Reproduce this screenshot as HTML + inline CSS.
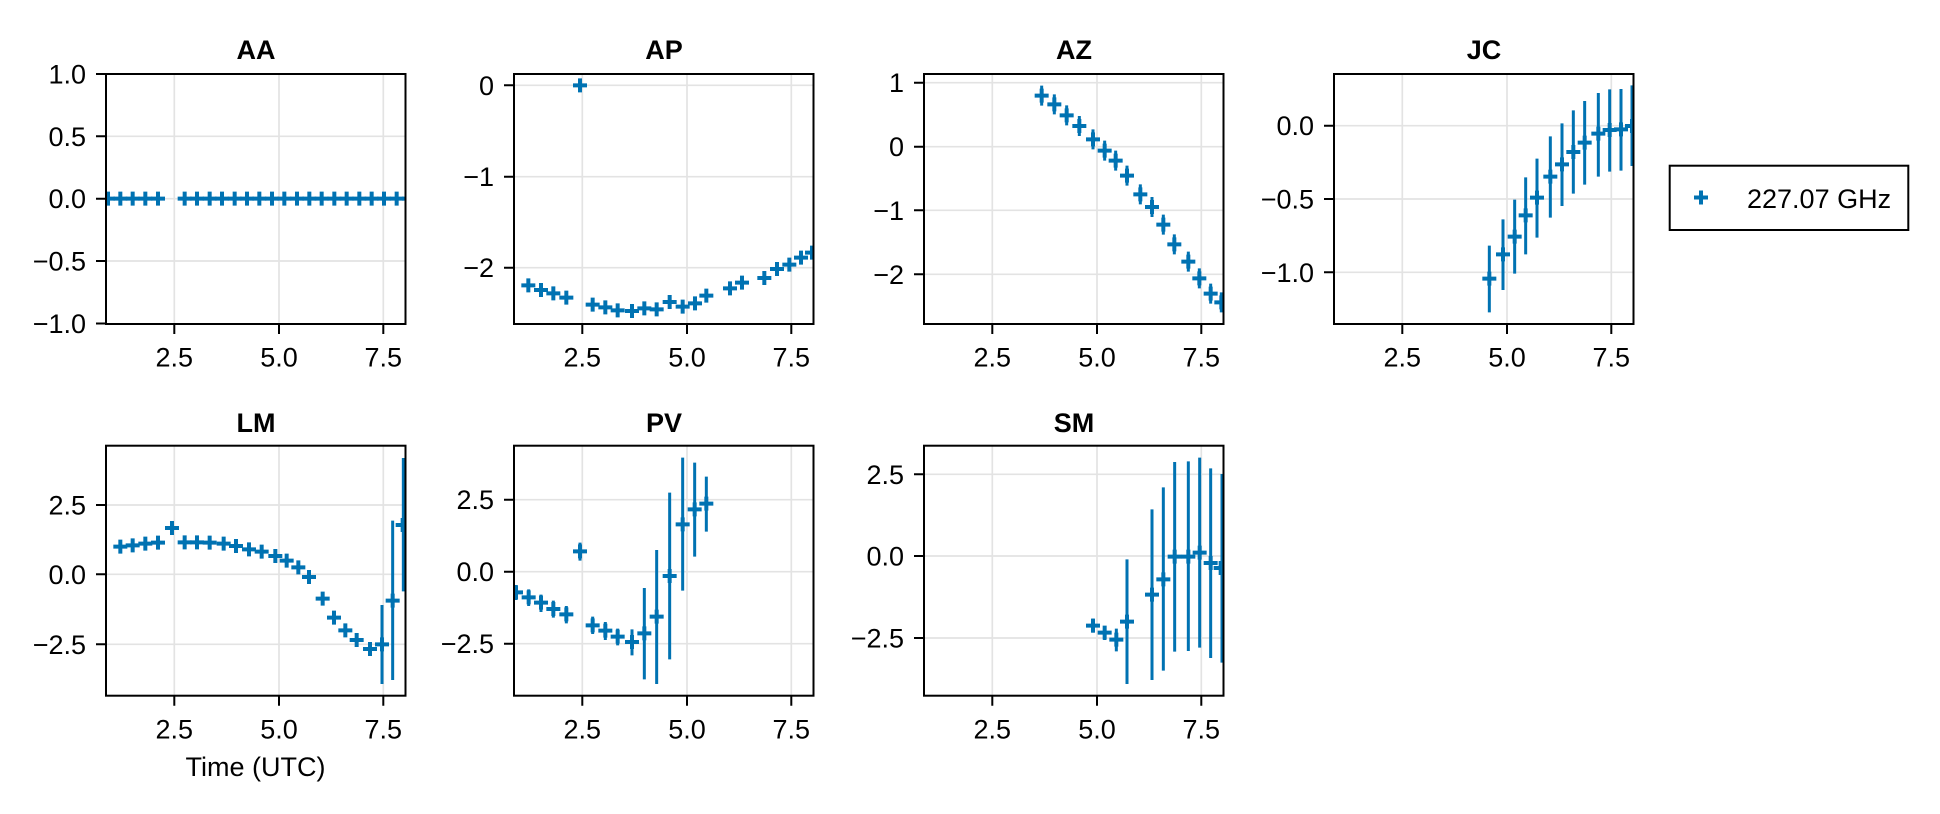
<!DOCTYPE html>
<html><head><meta charset="utf-8"><style>
html,body{margin:0;padding:0;background:#fff;}
svg{display:block;}
text{font-family:"Liberation Sans",sans-serif;fill:#000;}
</style></head><body>
<svg width="1940" height="814" viewBox="0 0 1940 814" xmlns="http://www.w3.org/2000/svg">
<defs>
<g id="p"><path d="M-21,0H21M0,-21V21" stroke="#0072b2" stroke-width="12" fill="none"/></g>
<clipPath id="cA" clipPathUnits="userSpaceOnUse"><rect x="48" y="42" width="898" height="750"/></clipPath>
<clipPath id="cB" clipPathUnits="userSpaceOnUse"><rect x="42" y="42" width="898" height="750"/></clipPath>
<clipPath id="cC" clipPathUnits="userSpaceOnUse"><rect x="48" y="47" width="898" height="750"/></clipPath>
<clipPath id="cD" clipPathUnits="userSpaceOnUse"><rect x="42" y="47" width="898" height="750"/></clipPath>
</defs>

<!-- gridlines -->
<g stroke="#e3e3e3" stroke-width="1.7">
<!-- AA -->
<path d="M174.3,74V324M279,74V324M383.3,74V324M106,136.3H405.5M106,198.7H405.5M106,261H405.5"/>
<!-- AP -->
<path d="M582.3,74V324M687,74V324M791.3,74V324M514,85.3H813.5M514,176.7H813.5M514,267.7H813.5"/>
<!-- AZ -->
<path d="M992.3,74V324M1097,74V324M1201.3,74V324M924,82.7H1223.5M924,146.7H1223.5M924,210.3H1223.5M924,274.3H1223.5"/>
<!-- JC -->
<path d="M1402.3,74V324M1507,74V324M1611.3,74V324M1334,125.7H1633.5M1334,199H1633.5M1334,272.3H1633.5"/>
<!-- LM -->
<path d="M174.3,445.7V695.7M279,445.7V695.7M383.3,445.7V695.7M106,505H405.5M106,574.3H405.5M106,644.3H405.5"/>
<!-- PV -->
<path d="M582.3,445.7V695.7M687,445.7V695.7M791.3,445.7V695.7M514,499.7H813.5M514,571.7H813.5M514,643.7H813.5"/>
<!-- SM -->
<path d="M992.3,445.7V695.7M1097,445.7V695.7M1201.3,445.7V695.7M924,474.3H1223.5M924,556H1223.5M924,638H1223.5"/>
</g>

<!-- data AA -->
<g transform="translate(90,60) scale(0.33333)"><g clip-path="url(#cA)">
<use href="#p" x="54" y="416"/><use href="#p" x="91" y="416"/><use href="#p" x="128" y="416"/><use href="#p" x="166" y="416"/><use href="#p" x="204" y="416"/>
<use href="#p" x="284" y="416"/><use href="#p" x="321" y="416"/><use href="#p" x="359" y="416"/><use href="#p" x="396" y="416"/><use href="#p" x="434" y="416"/><use href="#p" x="471" y="416"/><use href="#p" x="508" y="416"/><use href="#p" x="546" y="416"/><use href="#p" x="583" y="416"/><use href="#p" x="621" y="416"/><use href="#p" x="658" y="416"/><use href="#p" x="695" y="416"/><use href="#p" x="733" y="416"/><use href="#p" x="770" y="416"/><use href="#p" x="808" y="416"/><use href="#p" x="845" y="416"/><use href="#p" x="882" y="416"/><use href="#p" x="920" y="416"/><use href="#p" x="957" y="416"/>
</g></g>

<!-- data AP -->
<g transform="translate(500,60) scale(0.33333)"><g clip-path="url(#cB)">
<use href="#p" x="240" y="76"/><use href="#p" x="85" y="676"/><use href="#p" x="123" y="690"/><use href="#p" x="160" y="700"/><use href="#p" x="199" y="713"/><use href="#p" x="278" y="734"/><use href="#p" x="316" y="742"/><use href="#p" x="353" y="751"/><use href="#p" x="396" y="753"/><use href="#p" x="433" y="745"/><use href="#p" x="470" y="748"/><use href="#p" x="509" y="726"/><use href="#p" x="548" y="740"/><use href="#p" x="585" y="730"/><use href="#p" x="619" y="707"/><use href="#p" x="690" y="685"/><use href="#p" x="726" y="668"/><use href="#p" x="793" y="654"/><use href="#p" x="831" y="627"/><use href="#p" x="868" y="614"/><use href="#p" x="903" y="593"/><use href="#p" x="936" y="578"/>
</g></g>

<!-- data AZ -->
<g transform="translate(910,60) scale(0.33333)"><g clip-path="url(#cB)">
<g stroke="#0072b2" stroke-width="9">
<path d="M395,77V137M433,103V163M470,136V196M508,168V228M549,208V268M584,242V302M617,272V332M651,317V377M691,373V433M726,411V471M760,464V524M793,523V583M835,575V635M868,625V685M902,671V731M934,697V757"/>
</g>
<use href="#p" x="395" y="107"/><use href="#p" x="433" y="133"/><use href="#p" x="470" y="166"/><use href="#p" x="508" y="198"/><use href="#p" x="549" y="238"/><use href="#p" x="584" y="272"/><use href="#p" x="617" y="302"/><use href="#p" x="651" y="347"/><use href="#p" x="691" y="403"/><use href="#p" x="726" y="441"/><use href="#p" x="760" y="494"/><use href="#p" x="793" y="553"/><use href="#p" x="835" y="605"/><use href="#p" x="868" y="655"/><use href="#p" x="902" y="701"/><use href="#p" x="934" y="727"/>
</g></g>

<!-- data JC -->
<g transform="translate(1320,60) scale(0.33333)"><g clip-path="url(#cB)">
<g stroke="#0072b2" stroke-width="9">
<path d="M508,557V757M549,478V690M584,419V641M617,352V583M651,296V533M691,229V473M726,190V438M760,151V401M794,123V374M835,99V350M869,88V335M903,87V332M936,76V318"/>
</g>
<use href="#p" x="508" y="656"/><use href="#p" x="549" y="583"/><use href="#p" x="584" y="530"/><use href="#p" x="617" y="466"/><use href="#p" x="651" y="413"/><use href="#p" x="691" y="350"/><use href="#p" x="726" y="313"/><use href="#p" x="760" y="276"/><use href="#p" x="794" y="248"/><use href="#p" x="835" y="221"/><use href="#p" x="869" y="210"/><use href="#p" x="903" y="208"/><use href="#p" x="936" y="198"/>
</g></g>

<!-- data LM -->
<g transform="translate(90,430) scale(0.33333)"><g clip-path="url(#cC)">
<g stroke="#0072b2" stroke-width="9">
<path d="M876,525V762M908,272V750M940,84V484"/>
</g>
<use href="#p" x="91" y="350"/><use href="#p" x="128" y="346"/><use href="#p" x="166" y="341"/><use href="#p" x="204" y="338"/><use href="#p" x="246" y="294"/><use href="#p" x="284" y="337"/><use href="#p" x="321" y="337"/><use href="#p" x="359" y="338"/><use href="#p" x="401" y="341"/><use href="#p" x="438" y="348"/><use href="#p" x="477" y="358"/><use href="#p" x="515" y="365"/><use href="#p" x="556" y="378"/><use href="#p" x="590" y="392"/><use href="#p" x="625" y="412"/><use href="#p" x="657" y="441"/><use href="#p" x="698" y="506"/><use href="#p" x="732" y="563"/><use href="#p" x="766" y="601"/><use href="#p" x="800" y="630"/><use href="#p" x="840" y="657"/><use href="#p" x="876" y="643"/><use href="#p" x="908" y="512"/><use href="#p" x="938" y="285"/>
</g></g>

<!-- data PV -->
<g transform="translate(500,430) scale(0.33333)"><g clip-path="url(#cD)">
<g stroke="#0072b2" stroke-width="9">
<path d="M48,465V510M86,478V528M123,494V546M160,512V563M199,528V580M240,338V392M278,560V612M316,576V630M353,596V646M396,598V676M433,474V748M470,360V762M509,188V688M548,83V482M584,98V380M619,140V305"/>
</g>
<use href="#p" x="48" y="487"/><use href="#p" x="86" y="502"/><use href="#p" x="123" y="518"/><use href="#p" x="160" y="537"/><use href="#p" x="199" y="553"/><use href="#p" x="240" y="364"/><use href="#p" x="278" y="586"/><use href="#p" x="316" y="602"/><use href="#p" x="353" y="620"/><use href="#p" x="396" y="636"/><use href="#p" x="433" y="610"/><use href="#p" x="470" y="560"/><use href="#p" x="509" y="438"/><use href="#p" x="548" y="283"/><use href="#p" x="584" y="238"/><use href="#p" x="619" y="221"/>
</g></g>

<!-- data SM -->
<g transform="translate(910,430) scale(0.33333)"><g clip-path="url(#cD)">
<g stroke="#0072b2" stroke-width="9">
<path d="M549,566V608M584,588V630M619,596V664M651,388V762M726,238V750M760,172V722M794,96V665M835,94V663M869,83V653M902,115V684M936,132V698"/>
</g>
<use href="#p" x="549" y="587"/><use href="#p" x="584" y="608"/><use href="#p" x="619" y="629"/><use href="#p" x="651" y="575"/><use href="#p" x="726" y="494"/><use href="#p" x="760" y="448"/><use href="#p" x="794" y="380"/><use href="#p" x="835" y="380"/><use href="#p" x="869" y="368"/><use href="#p" x="902" y="399"/><use href="#p" x="932" y="414"/>
</g></g>

<!-- frames & ticks -->
<g fill="none" stroke="#000" stroke-width="2">
<rect x="106" y="74" width="299.5" height="250"/>
<rect x="514" y="74" width="299.5" height="250"/>
<rect x="924" y="74" width="299.5" height="250"/>
<rect x="1334" y="74" width="299.5" height="250"/>
<rect x="106" y="445.7" width="299.5" height="250"/>
<rect x="514" y="445.7" width="299.5" height="250"/>
<rect x="924" y="445.7" width="299.5" height="250"/>
<!-- x ticks -->
<path d="M174.3,324v10M279,324v10M383.3,324v10M582.3,324v10M687,324v10M791.3,324v10M992.3,324v10M1097,324v10M1201.3,324v10M1402.3,324v10M1507,324v10M1611.3,324v10"/>
<path d="M174.3,695.7v10M279,695.7v10M383.3,695.7v10M582.3,695.7v10M687,695.7v10M791.3,695.7v10M992.3,695.7v10M1097,695.7v10M1201.3,695.7v10"/>
<!-- y ticks -->
<path d="M106,74h-10M106,136.3h-10M106,198.7h-10M106,261h-10M106,323.5h-10"/>
<path d="M514,85.3h-10M514,176.7h-10M514,267.7h-10"/>
<path d="M924,82.7h-10M924,146.7h-10M924,210.3h-10M924,274.3h-10"/>
<path d="M1334,125.7h-10M1334,199h-10M1334,272.3h-10"/>
<path d="M106,505h-10M106,574.3h-10M106,644.3h-10"/>
<path d="M514,499.7h-10M514,571.7h-10M514,643.7h-10"/>
<path d="M924,474.3h-10M924,556h-10M924,638h-10"/>
</g>

<!-- titles -->
<g font-size="27" font-weight="bold" text-anchor="middle">
<text x="256" y="59">AA</text>
<text x="664" y="59">AP</text>
<text x="1074" y="59">AZ</text>
<text x="1484" y="59">JC</text>
<text x="256" y="432">LM</text>
<text x="664" y="432">PV</text>
<text x="1074" y="432">SM</text>
</g>

<!-- x tick labels -->
<g font-size="27" text-anchor="middle">
<text x="174.3" y="366.5">2.5</text><text x="279" y="366.5">5.0</text><text x="383.3" y="366.5">7.5</text>
<text x="582.3" y="366.5">2.5</text><text x="687" y="366.5">5.0</text><text x="791.3" y="366.5">7.5</text>
<text x="992.3" y="366.5">2.5</text><text x="1097" y="366.5">5.0</text><text x="1201.3" y="366.5">7.5</text>
<text x="1402.3" y="366.5">2.5</text><text x="1507" y="366.5">5.0</text><text x="1611.3" y="366.5">7.5</text>
<text x="174.3" y="738.3">2.5</text><text x="279" y="738.3">5.0</text><text x="383.3" y="738.3">7.5</text>
<text x="582.3" y="738.3">2.5</text><text x="687" y="738.3">5.0</text><text x="791.3" y="738.3">7.5</text>
<text x="992.3" y="738.3">2.5</text><text x="1097" y="738.3">5.0</text><text x="1201.3" y="738.3">7.5</text>
<text x="255.5" y="776">Time (UTC)</text>
</g>

<!-- y tick labels -->
<g font-size="27" text-anchor="end">
<text x="86" y="83.5">1.0</text><text x="86" y="145.8">0.5</text><text x="86" y="208.2">0.0</text><text x="86" y="270.5">−0.5</text><text x="86" y="333">−1.0</text>
<text x="494" y="94.8">0</text><text x="494" y="186.2">−1</text><text x="494" y="277.2">−2</text>
<text x="904" y="92.2">1</text><text x="904" y="156.2">0</text><text x="904" y="219.8">−1</text><text x="904" y="283.8">−2</text>
<text x="1314" y="135.2">0.0</text><text x="1314" y="208.5">−0.5</text><text x="1314" y="281.8">−1.0</text>
<text x="86" y="514.5">2.5</text><text x="86" y="583.8">0.0</text><text x="86" y="653.8">−2.5</text>
<text x="494" y="509.2">2.5</text><text x="494" y="581.2">0.0</text><text x="494" y="653.2">−2.5</text>
<text x="904" y="483.8">2.5</text><text x="904" y="565.5">0.0</text><text x="904" y="647.5">−2.5</text>
</g>

<!-- legend -->
<rect x="1669.7" y="165.7" width="238.6" height="64.3" fill="#fff" stroke="#000" stroke-width="2"/>
<g transform="translate(1701,197.5) scale(0.33333)"><use href="#p" x="0" y="0"/></g>
<text x="1747" y="208" font-size="27">227.07 GHz</text>
</svg>
</body></html>
